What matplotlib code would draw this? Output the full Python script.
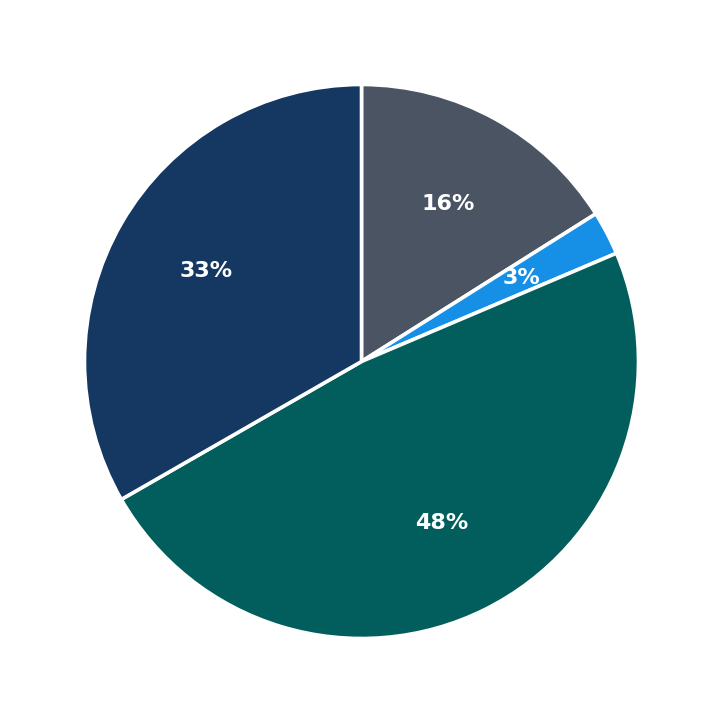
import matplotlib.pyplot as plt

# slice shares, clockwise from the top
labels = ['A', 'B', 'C', 'D']
values = [16.05, 2.56, 48.1, 33.3]
colors = ['#4b5462', '#1590e6', '#025e5c', '#143862']

fig = plt.figure(figsize=(7.23, 7.23), dpi=100)
ax = fig.add_axes([0, 0, 1, 1])

wedges, texts, autotexts = ax.pie(
    values, colors=colors, startangle=90, counterclock=False,
    autopct='%.0f%%', pctdistance=0.65,
    wedgeprops={'edgecolor': 'white', 'linewidth': 2.6},
    textprops={'color': 'white', 'fontsize': 16, 'fontweight': 'bold'})

# radius of about 277 px in a 723 px figure
lim = 361.5 / 277
ax.set_xlim(-lim, lim)
ax.set_ylim(-lim, lim)
ax.set_aspect('equal')

plt.savefig('out.png', dpi=100)
